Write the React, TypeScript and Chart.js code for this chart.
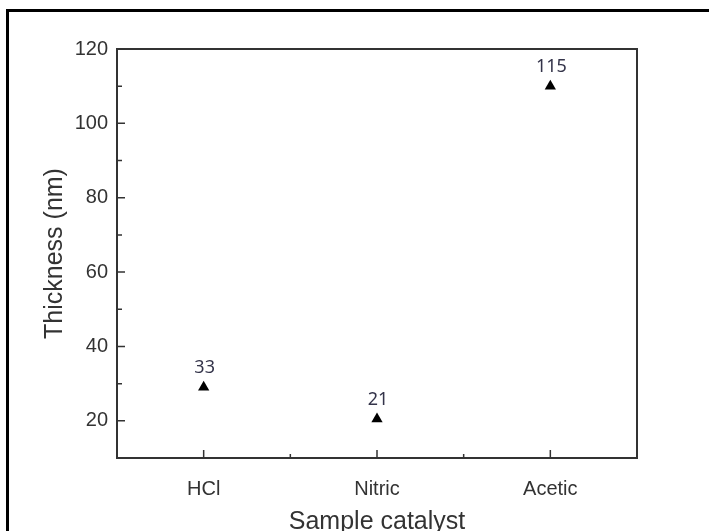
import React, { useEffect, useRef } from "react";
import { Chart, registerables } from "chart.js";

Chart.register(...registerables);

const categories = ["HCl", "Nitric", "Acetic"];
const thickness = [29, 20.5, 110];
const pointLabels = ["33", "21", "115"];
const yMajorTicks = [20, 40, 60, 80, 100, 120];
const yMinorTicks = [30, 50, 70, 90, 110];
const xMajorTicks = [0, 1, 2];
const xMinorTicks = [0.5, 1.5];
const yTitle = "Thickness (nm)";
const xTitle = "Sample catalyst";

const framePlugin = {
  id: "frameTicks",
  afterDatasetsDraw(chart: any) {
    const ctx = chart.ctx;
    const meta = chart.getDatasetMeta(0);
    ctx.save();
    ctx.font = '18px "Noto Sans"';
    ctx.fillStyle = "#34344a";
    ctx.textAlign = "center";
    ctx.textBaseline = "middle";
    meta.data.forEach((el: any, i: number) => {
      ctx.fillText(pointLabels[i], el.x + 1, el.y - 19);
    });
    ctx.restore();
  },
  afterDraw(chart: any) {
    const { ctx, chartArea: a, scales } = chart;
    const xs = scales.x;
    const ys = scales.y;
    ctx.save();
    ctx.strokeStyle = "#333";
    ctx.lineWidth = 2;
    ctx.beginPath();
    ctx.rect(a.left, a.top, a.right - a.left, a.bottom - a.top);
    ctx.stroke();
    ctx.lineWidth = 1.5;
    ctx.beginPath();
    yMajorTicks.forEach((v) => {
      const y = ys.getPixelForValue(v);
      ctx.moveTo(a.left, y);
      ctx.lineTo(a.left + 8, y);
    });
    yMinorTicks.forEach((v) => {
      const y = ys.getPixelForValue(v);
      ctx.moveTo(a.left, y);
      ctx.lineTo(a.left + 5, y);
    });
    xMajorTicks.forEach((v) => {
      const x = xs.getPixelForValue(v);
      ctx.moveTo(x, a.bottom);
      ctx.lineTo(x, a.bottom - 8);
    });
    xMinorTicks.forEach((v) => {
      const x = xs.getPixelForValue(v);
      ctx.moveTo(x, a.bottom);
      ctx.lineTo(x, a.bottom - 4);
    });
    ctx.stroke();
    ctx.restore();
  },
};

export default function App() {
  const ref = useRef<HTMLCanvasElement | null>(null);
  useEffect(() => {
    if (!ref.current) return;
    const chart = new Chart(ref.current, {
      type: "scatter",
      data: {
        datasets: [
          {
            data: thickness.map((v, i) => ({ x: i, y: v })),
            pointStyle: "triangle",
            pointRadius: 6.5,
            pointBorderWidth: 0,
            backgroundColor: "#000",
            borderColor: "#000",
          },
        ],
      },
      options: {
        animation: false,
        responsive: false,
        layout: { padding: { left: 0, top: 49, right: 72, bottom: 0 } },
        plugins: { legend: { display: false }, tooltip: { enabled: false } },
        scales: {
          x: {
            type: "linear",
            min: -0.5,
            max: 2.5,
            afterBuildTicks: (s: any) => {
              s.ticks = xMajorTicks.map((v) => ({ value: v }));
            },
            afterFit: (s: any) => {
              s.height = 79;
            },
            grid: { display: false, drawTicks: false },
            border: { display: false },
            ticks: {
              padding: 19,
              color: "#333",
              font: { family: '"Liberation Sans", Arial, sans-serif', size: 20 },
              callback: (v: any) => categories[Math.round(Number(v))] ?? "",
              maxRotation: 0,
            },
            title: {
              display: true,
              text: xTitle,
              color: "#333",
              font: { family: '"Liberation Sans", Arial, sans-serif', size: 25 },
              padding: { top: 2, bottom: 0 },
            },
          },
          y: {
            min: 10,
            max: 120,
            afterBuildTicks: (s: any) => {
              s.ticks = yMajorTicks.map((v) => ({ value: v }));
            },
            afterFit: (s: any) => {
              s.width = 117;
            },
            grid: { display: false, drawTicks: false },
            border: { display: false },
            ticks: {
              padding: 9,
              color: "#333",
              font: { family: '"Liberation Sans", Arial, sans-serif', size: 20 },
            },
            title: {
              display: true,
              text: yTitle,
              color: "#333",
              font: { family: '"Liberation Sans", Arial, sans-serif', size: 25 },
              padding: { top: 40, bottom: 0 },
            },
          },
        },
      },
      plugins: [framePlugin],
    });
    return () => chart.destroy();
  }, []);

  return (
    <div style={{ position: "fixed", left: 0, top: 0, width: 709, height: 531, background: "#fff", overflow: "hidden" }}>
      <canvas ref={ref} width={709} height={537} style={{ position: "absolute", left: 0, top: 0 }} />
      <div style={{ position: "absolute", left: 6, top: 9, width: 703, height: 3, background: "#000" }} />
      <div style={{ position: "absolute", left: 6, top: 9, width: 3, height: 522, background: "#000" }} />
    </div>
  );
}
